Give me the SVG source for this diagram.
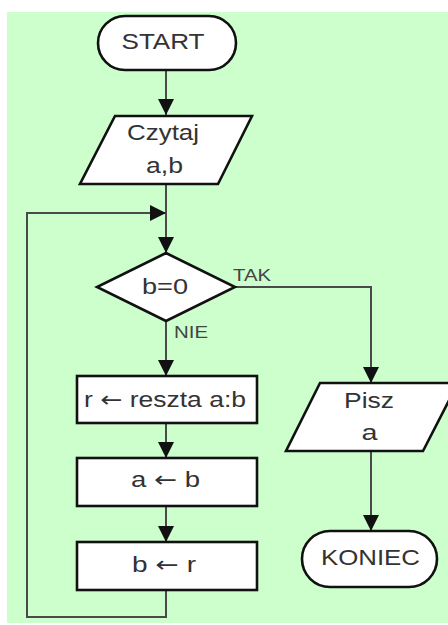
<svg xmlns="http://www.w3.org/2000/svg" width="448" height="625" viewBox="0 0 448 625">
  <style>
    .node { fill: #ffffff; stroke: #111111; stroke-width: 2.6; }
    .lbl { font-family: "Liberation Sans", Arial, sans-serif; font-size: 22px; fill: #333333; text-anchor: middle; }
    .arr { font-family: "DejaVu Sans", sans-serif; }
    .small { font-family: "Liberation Sans", Arial, sans-serif; font-size: 16px; fill: #444444; }
    .conn { fill: none; stroke: #4a4a4a; stroke-width: 2; }
  </style>
  <defs>
    <marker id="arrow" markerUnits="userSpaceOnUse" markerWidth="16" markerHeight="18" refX="16" refY="8" orient="auto">
      <path d="M0,0 L16,8 L0,16 Z" fill="#111111"/>
    </marker>
  </defs>

  <!-- panel background -->
  <rect x="7" y="12" width="441" height="611" fill="#ccffcc"/>

  <!-- connectors -->
  <g id="connectors">
    <line class="conn" x1="166" y1="70" x2="166" y2="115" marker-end="url(#arrow)"/>
    <line class="conn" x1="166" y1="184" x2="166" y2="253" marker-end="url(#arrow)"/>
    <line class="conn" x1="166" y1="321" x2="166" y2="376" marker-end="url(#arrow)"/>
    <line class="conn" x1="166" y1="423" x2="166" y2="458" marker-end="url(#arrow)"/>
    <line class="conn" x1="166" y1="506" x2="166" y2="542" marker-end="url(#arrow)"/>
    <polyline class="conn" points="235,287 371,287 371,383" marker-end="url(#arrow)"/>
    <line class="conn" x1="371" y1="451" x2="371" y2="531" marker-end="url(#arrow)"/>
    <polyline class="conn" points="166,590 166,617 27,617 27,213 166,213" marker-end="url(#arrow)"/>
    <text class="small" x="233" y="281" textLength="38" lengthAdjust="spacingAndGlyphs">TAK</text>
    <text class="small" x="174" y="338" textLength="34" lengthAdjust="spacingAndGlyphs">NIE</text>
  </g>

  <g id="start">
    <rect class="node" x="98" y="16" width="138" height="54" rx="27"/>
    <text class="lbl" x="163" y="49" textLength="83" lengthAdjust="spacingAndGlyphs">START</text>
  </g>

  <g id="read">
    <polygon class="node" points="115,116 252,116 218,184 80,184"/>
    <text class="lbl" x="163" y="140" textLength="72" lengthAdjust="spacingAndGlyphs">Czytaj</text>
    <text class="lbl" x="164.5" y="173" textLength="37" lengthAdjust="spacingAndGlyphs">a,b</text>
  </g>

  <g id="cond">
    <polygon class="node" points="166,253 235,287 166,321 97,287"/>
    <text class="lbl" x="165" y="294" textLength="46" lengthAdjust="spacingAndGlyphs">b=0</text>
  </g>

  <g id="mod">
    <rect class="node" x="77" y="376" width="180" height="47"/>
    <text class="lbl" x="165" y="407" textLength="162" lengthAdjust="spacingAndGlyphs">r <tspan class="arr">←</tspan> reszta a:b</text>
  </g>

  <g id="assign-a">
    <rect class="node" x="77" y="458" width="180" height="48"/>
    <text class="lbl" x="165.5" y="487" textLength="69" lengthAdjust="spacingAndGlyphs">a <tspan class="arr">←</tspan> b</text>
  </g>

  <g id="assign-b">
    <rect class="node" x="77" y="542" width="180" height="48"/>
    <text class="lbl" x="164" y="572" textLength="64" lengthAdjust="spacingAndGlyphs">b <tspan class="arr">←</tspan> r</text>
  </g>

  <g id="write">
    <polygon class="node" points="320,383 458,383 423,451 286,451"/>
    <text class="lbl" x="369" y="408" textLength="50" lengthAdjust="spacingAndGlyphs">Pisz</text>
    <text class="lbl" x="369.5" y="440" textLength="16" lengthAdjust="spacingAndGlyphs">a</text>
  </g>

  <g id="end">
    <rect class="node" x="302" y="531" width="135" height="56" rx="28"/>
    <text class="lbl" x="370.5" y="565" textLength="99" lengthAdjust="spacingAndGlyphs">KONIEC</text>
  </g>
</svg>
